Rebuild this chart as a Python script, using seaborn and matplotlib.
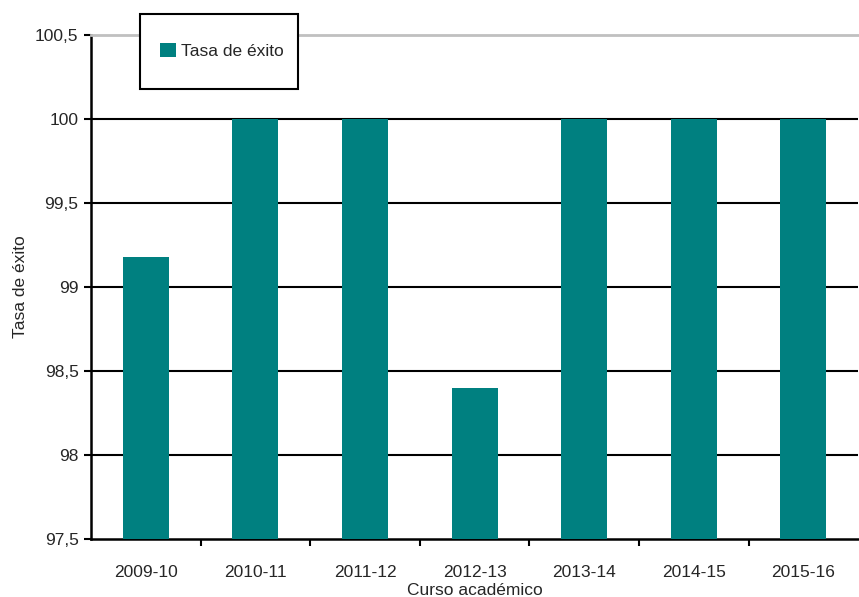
import matplotlib
matplotlib.use('Agg')
from matplotlib import pyplot as plt
from matplotlib.patches import Rectangle
from matplotlib.ticker import FixedLocator, FuncFormatter
import seaborn as sns
import pandas as pd


# Datos
cursos = ['2009-10', '2010-11', '2011-12', '2012-13', '2013-14', '2014-15', '2015-16']
tasa_exito = [99.18, 100, 100, 98.40, 100, 100, 100]
y_ticks = [97.5, 98, 98.5, 99, 99.5, 100, 100.5]

df = pd.DataFrame({'Curso académico': cursos, 'Tasa de éxito': tasa_exito})

sns.set_style('white')
plt.rcParams['font.family'] = ['Liberation Sans', 'DejaVu Sans']

fig = plt.figure(figsize=(8.59, 5.97), dpi=100)
ax = fig.add_axes([0.106, 0.097, 0.893, 0.845])

sns.barplot(data=df, x='Curso académico', y='Tasa de éxito', color='#008080',
            width=0.42, saturation=1, linewidth=0, label='Tasa de éxito', ax=ax, zorder=3)

ax.set_ylim(97.5, 100.5)
ax.set_xlim(-0.5, len(cursos) - 0.5)
ax.yaxis.set_major_locator(FixedLocator(y_ticks))
ax.yaxis.set_major_formatter(FuncFormatter(lambda v, p: f'{v:g}'.replace('.', ',')))
for v in y_ticks[1:-1]:
    ax.axhline(v, color='black', lw=1.5, zorder=1)

# ticks del eje x en los límites entre categorías
ax.set_xticks([i + 0.5 for i in range(len(cursos) - 1)], minor=True)
ax.tick_params(axis='x', which='major', length=0, labelsize=12.5, pad=19)
ax.tick_params(axis='x', which='minor', length=5, width=1.5, color='black', direction='out', bottom=True)
ax.tick_params(axis='y', length=5, width=1.5, color='black', direction='out', left=True, labelsize=12.5, pad=4)

for s in ['left', 'bottom']:
    ax.spines[s].set_color('black')
    ax.spines[s].set_linewidth(1.8)
ax.spines['right'].set_visible(False)
ax.spines['top'].set_color('#c0c0c0')
ax.spines['top'].set_linewidth(2)

ax.set_xlabel('Curso académico', fontsize=12.5, labelpad=2)
ax.set_ylabel('Tasa de éxito', fontsize=12.5, labelpad=5)

# recuadro de la leyenda
caja = Rectangle((140 / 859, 1 - 89 / 597), 158 / 859, 75 / 597, transform=fig.transFigure,
                 facecolor='white', edgecolor='black', lw=1.5, zorder=4)
fig.patches.append(caja)

handles, labels = ax.get_legend_handles_labels()
if ax.get_legend() is not None:
    ax.get_legend().remove()
leg = fig.legend(handles, labels, loc='center left', bbox_to_anchor=(153 / 859, 1 - 51 / 597),
                 frameon=False, fontsize=12.5, handlelength=0.9, handleheight=0.9,
                 handletextpad=0.3, borderpad=0.4, borderaxespad=0)
leg.set_zorder(5)

plt.savefig('out.png', dpi=100)
